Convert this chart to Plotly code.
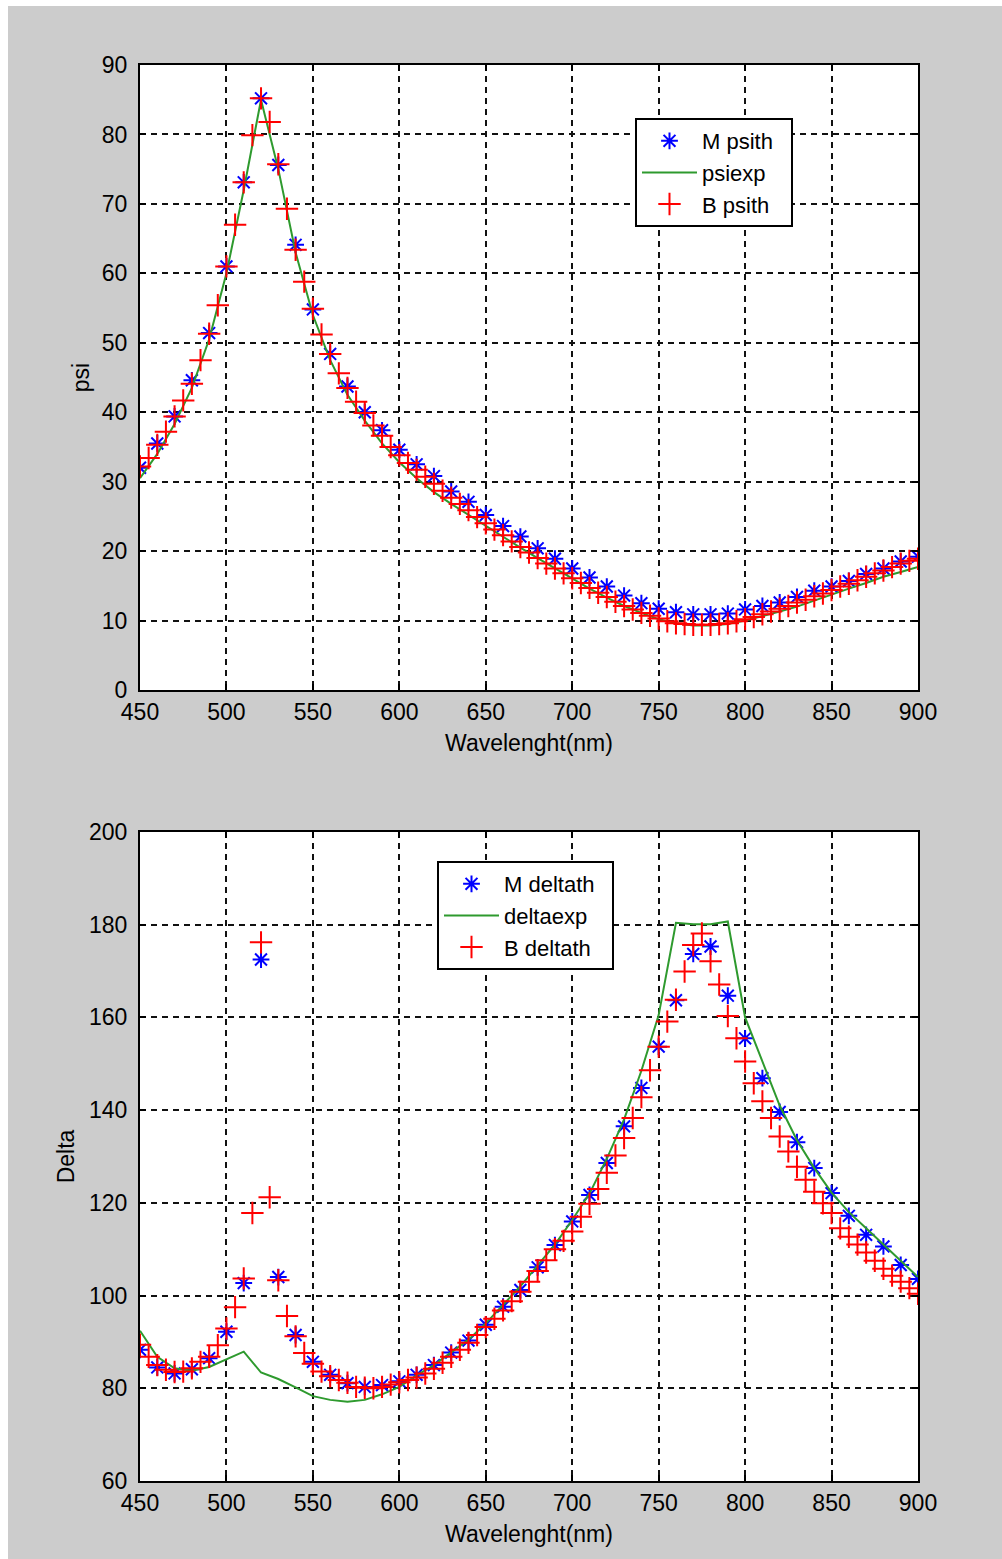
import plotly.graph_objects as go

# ---------------- data ----------------
wl10 = [450, 460, 470, 480, 490, 500, 510, 520, 530, 540, 550, 560, 570, 580, 590,
        600, 610, 620, 630, 640, 650, 660, 670, 680, 690, 700, 710, 720, 730, 740,
        750, 760, 770, 780, 790, 800, 810, 820, 830, 840, 850, 860, 870, 880, 890, 900]

wl5 = [450, 455, 460, 465, 470, 475, 480, 485, 490, 495, 500, 505, 510, 515, 520,
       525, 530, 535, 540, 545, 550, 555, 560, 565, 570, 575, 580, 585, 590, 595,
       600, 605, 610, 615, 620, 625, 630, 635, 640, 645, 650, 655, 660, 665, 670,
       675, 680, 685, 690, 695, 700, 705, 710, 715, 720, 725, 730, 735, 740, 745,
       750, 755, 760, 765, 770, 775, 780, 785, 790, 795, 800, 805, 810, 815, 820,
       825, 830, 835, 840, 845, 850, 855, 860, 865, 870, 875, 880, 885, 890, 895, 900]

psi_M = [32.0, 35.5, 39.4, 44.6, 51.4, 61.0, 73.1, 85.2, 75.6, 64.1, 54.8, 48.4, 43.7, 40.0, 37.4,
         34.6, 32.5, 30.8, 28.6, 27.1, 25.2, 23.6, 22.1, 20.4, 18.9, 17.5, 16.2, 14.9, 13.6, 12.5,
         11.7, 11.2, 10.9, 10.9, 11.0, 11.6, 12.1, 12.6, 13.4, 14.3, 14.9, 15.7, 16.7, 17.5, 18.5, 19.2]

psi_exp = [30.5, 34.0, 38.3, 43.5, 50.5, 60.0, 72.0, 85.0, 75.0, 63.0, 54.0, 47.5, 42.5, 38.8, 35.5,
           32.8, 30.5, 28.5, 26.8, 25.2, 23.6, 22.0, 20.5, 19.0, 17.5, 16.0, 14.6, 13.3, 12.1, 11.1,
           10.2, 9.6, 9.3, 9.3, 9.5, 10.0, 10.6, 11.3, 12.0, 12.9, 13.7, 14.6, 15.4, 16.3, 17.0, 17.7]

psi_B = [32.2, 33.4, 35.3, 37.2, 39.4, 41.7, 44.1, 47.5, 51.3, 55.4, 61.0, 67.0, 73.1, 79.9, 85.2,
         81.8, 75.7, 69.3, 63.4, 58.8, 54.9, 51.2, 48.4, 45.6, 43.5, 41.5, 39.9, 38.1, 36.6, 35.0,
         33.8, 32.7, 31.7, 30.7, 29.7, 28.7, 27.7, 26.8, 25.9, 24.9, 24.0, 23.1, 22.3, 21.4, 20.6,
         19.8, 19.0, 18.2, 17.5, 16.8, 16.1, 15.4, 14.7, 14.0, 13.4, 12.7, 12.1, 11.6, 11.1, 10.7,
         10.3, 9.9, 9.6, 9.5, 9.4, 9.4, 9.4, 9.5, 9.6, 9.9, 10.2, 10.5, 10.9, 11.3, 11.7,
         12.1, 12.6, 13.0, 13.5, 13.9, 14.4, 14.9, 15.3, 15.8, 16.3, 16.8, 17.2, 17.7, 18.2, 18.6, 18.9]

delta_M = [88.3, 84.5, 83.2, 84.1, 86.5, 92.2, 102.7, 172.5, 104.0, 91.5, 85.7, 82.9, 81.1, 80.3, 80.7,
           81.5, 82.9, 85.0, 87.7, 90.3, 93.7, 97.6, 101.2, 106.1, 110.9, 116.0, 121.7, 128.6, 136.5, 144.8,
           153.7, 163.7, 173.7, 175.3, 164.7, 155.5, 146.9, 139.6, 133.1, 127.5, 122.1, 117.2, 113.1, 110.6, 106.6, 103.6]

delta_exp = [92.4, 86.8, 84.3, 83.8, 84.6, 86.2, 87.9, 83.4, 82.0, 80.2, 78.3, 77.5, 77.1, 77.5, 78.7,
             80.3, 82.8, 85.0, 87.7, 90.5, 94.0, 98.0, 102.0, 106.5, 111.0, 116.3, 122.0, 129.5, 138.0, 148.5,
             160.5, 180.4, 180.1, 180.1, 180.7, 160.0, 150.5, 141.0, 133.5, 127.5, 122.2, 118.0, 114.5, 111.0, 107.5, 104.0]

delta_B = [89.4, 86.8, 85.0, 84.0, 83.5, 83.6, 84.3, 85.7, 86.8, 89.3, 92.9, 97.5, 103.7, 117.8, 176.2,
           121.2, 103.3, 95.6, 91.2, 87.6, 85.3, 83.6, 82.6, 81.8, 81.2, 80.3, 80.1, 80.0, 80.3, 80.8,
           81.3, 81.8, 82.3, 83.2, 84.2, 85.5, 86.8, 88.3, 89.8, 91.5, 93.2, 95.0, 96.8, 98.8, 100.8,
           103.0, 105.3, 107.6, 110.0, 111.8, 113.8, 117.0, 119.8, 123.0, 126.5, 130.2, 134.0, 138.3, 142.8, 148.6,
           153.7, 159.1, 163.8, 169.9, 175.6, 178.1, 172.1, 167.1, 160.3, 155.5, 150.5, 145.8, 141.9, 138.3, 134.3,
           131.1, 127.8, 125.0, 122.4, 119.9, 117.8, 114.5, 112.7, 111.0, 109.3, 107.5, 105.8, 104.3, 103.0, 101.6, 100.4]

x_ticks = [450, 500, 550, 600, 650, 700, 750, 800, 850, 900]
psi_ticks = [0, 10, 20, 30, 40, 50, 60, 70, 80, 90]
delta_ticks = [60, 80, 100, 120, 140, 160, 180, 200]

# ---------------- style ----------------
FONT = "Liberation Sans, Arial, sans-serif"
FS = 23
LFS = 22
W, H = 1002, 1559
BLUE, RED, GREEN = "#0000ff", "#ff0000", "#2e9a2e"
PAD = "\u00a0\u00a0"

star = dict(symbol="asterisk-open", size=14, color=BLUE, line=dict(color=BLUE, width=2))
plus = dict(symbol="cross-thin-open", size=16, color=RED, line=dict(color=RED, width=2))

fig = go.Figure()
# top panel
fig.add_trace(go.Scatter(x=wl10, y=psi_M, mode="markers", name="M psith" + PAD, marker=star,
                         xaxis="x", yaxis="y", legend="legend"))
fig.add_trace(go.Scatter(x=wl10, y=psi_exp, mode="lines", name="psiexp" + PAD,
                         line=dict(color=GREEN, width=2), xaxis="x", yaxis="y", legend="legend"))
fig.add_trace(go.Scatter(x=wl5, y=psi_B, mode="markers", name="B psith" + PAD, marker=plus,
                         xaxis="x", yaxis="y", legend="legend"))
# bottom panel
fig.add_trace(go.Scatter(x=wl10, y=delta_M, mode="markers", name="M deltath" + PAD, marker=star,
                         xaxis="x2", yaxis="y2", legend="legend2"))
fig.add_trace(go.Scatter(x=wl10, y=delta_exp, mode="lines", name="deltaexp" + PAD,
                         line=dict(color=GREEN, width=2), xaxis="x2", yaxis="y2", legend="legend2"))
fig.add_trace(go.Scatter(x=wl5, y=delta_B, mode="markers", name="B deltath" + PAD, marker=plus,
                         xaxis="x2", yaxis="y2", legend="legend2"))

xdom = [140 / W, 918 / W]
top_dom = [1 - 690 / H, 1 - 65 / H]
bot_dom = [1 - 1481 / H, 1 - 832 / H]

common_axis = dict(
    showline=True, linecolor="black", linewidth=2, mirror="ticks",
    ticks="inside", ticklen=6, tickwidth=1.5, tickcolor="black",
    showgrid=True, gridcolor="#111111", gridwidth=1.5, griddash="6px,5px",
    zeroline=False, tickfont=dict(family=FONT, size=FS, color="black"),
    automargin=False,
)

xa = dict(common_axis, range=[450, 900], tickvals=x_ticks, domain=xdom,
          ticklabelstandoff=0,
          title=dict(text="Wavelenght(nm)", font=dict(family=FONT, size=FS, color="black"), standoff=11))
legend_common = dict(xanchor="left", yanchor="top",
                     bgcolor="white", bordercolor="black", borderwidth=2,
                     font=dict(family=FONT, size=LFS, color="black"), itemwidth=55,
                     tracegroupgap=0)
fig.update_layout(
    xaxis=dict(xa, anchor="y"),
    yaxis=dict(common_axis, range=[0, 90], tickvals=psi_ticks, domain=top_dom, anchor="x",
               ticklabelstandoff=6,
               title=dict(text="psi", font=dict(family=FONT, size=FS, color="black"), standoff=6)),
    xaxis2=dict(xa, anchor="y2"),
    yaxis2=dict(common_axis, range=[60, 200], tickvals=delta_ticks, domain=bot_dom, anchor="x2",
                ticklabelstandoff=6,
                title=dict(text="Delta", font=dict(family=FONT, size=FS, color="black"), standoff=8)),
    legend=dict(legend_common, x=635 / W, y=1 - 118 / H),
    legend2=dict(legend_common, x=437 / W, y=1 - 861 / H),
    width=W, height=H,
    margin=dict(l=0, r=0, t=0, b=0),
    paper_bgcolor="#cccccc", plot_bgcolor="white",
    font=dict(family=FONT, size=FS, color="black"),
    showlegend=True,
    shapes=[
        dict(type="rect", xref="paper", yref="paper", x0=0, x1=1, y0=1 - 6 / H, y1=1,
             fillcolor="white", line=dict(width=0), layer="above"),
        dict(type="rect", xref="paper", yref="paper", x0=0, x1=8 / W, y0=0, y1=1,
             fillcolor="white", line=dict(width=0), layer="above"),
    ],
)

fig.write_html("out.html")
